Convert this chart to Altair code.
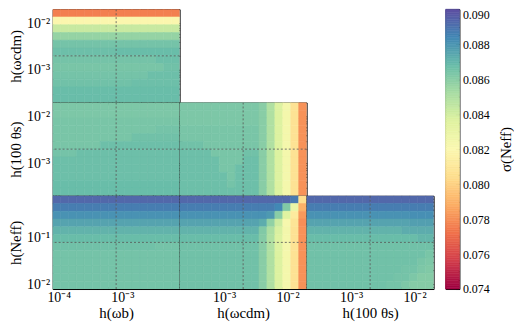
import altair as alt
import numpy as np
import pandas as pd

FONT = "Liberation Serif"

# ---------------- parameters (fiducial value; plotted range = fiducial/10 .. fiducial*10)
param_names = ["wb", "wcdm", "th", "neff"]
param_fiducial = [8e-4, 2e-3, 2e-3, 8e-2]
param_titles = ["h(ωb)", "h(ωcdm)", "h(100 θs)", "h(Neff)"]

tick_label_text = {-4: "10⁻⁴", -3: "10⁻³", -2: "10⁻²", -1: "10⁻¹"}

sigma_range = [0.074, 0.090]
colorbar_ticks = [0.074, 0.076, 0.078, 0.080, 0.082, 0.084, 0.086, 0.088, 0.090]
colorbar_title = "σ(Neff)"

# ---------------- sigma(N_eff): rows top -> bottom, columns left -> right
sigma_wcdm_wb = [
    [0.0776, 0.0776, 0.0776, 0.0776, 0.0776, 0.0776, 0.0776, 0.0776, 0.0776, 0.0776, 0.0776, 0.0776, 0.0776, 0.0776, 0.0776, 0.0776],
    [0.0819, 0.0819, 0.0819, 0.0819, 0.0819, 0.0819, 0.0819, 0.0819, 0.0819, 0.0819, 0.0819, 0.0819, 0.0819, 0.0819, 0.0819, 0.0819],
    [0.0843, 0.0843, 0.0843, 0.0843, 0.0843, 0.0843, 0.0843, 0.0843, 0.0843, 0.0843, 0.0843, 0.0843, 0.0843, 0.0843, 0.0843, 0.0843],
    [0.0857, 0.0857, 0.0857, 0.0857, 0.0857, 0.0857, 0.0857, 0.0857, 0.0857, 0.0857, 0.0857, 0.0857, 0.0857, 0.0857, 0.0857, 0.0857],
    [0.0865, 0.0865, 0.0865, 0.0865, 0.0865, 0.0865, 0.0865, 0.0865, 0.0865, 0.0865, 0.0865, 0.0865, 0.0865, 0.0865, 0.0865, 0.0865],
    [0.0867, 0.0867, 0.0867, 0.0867, 0.0867, 0.0867, 0.0867, 0.0867, 0.0868, 0.0868, 0.0868, 0.0868, 0.0868, 0.0868, 0.0868, 0.0868],
    [0.0865, 0.0865, 0.0865, 0.0865, 0.0865, 0.0865, 0.0865, 0.0865, 0.0865, 0.0865, 0.0865, 0.0865, 0.0865, 0.0867, 0.0867, 0.0867],
    [0.0864, 0.0864, 0.0864, 0.0864, 0.0864, 0.0864, 0.0864, 0.0864, 0.0864, 0.0864, 0.0864, 0.0864, 0.0864, 0.0864, 0.0866, 0.0866],
    [0.0865, 0.0865, 0.0865, 0.0865, 0.0865, 0.0865, 0.0865, 0.0865, 0.0865, 0.0865, 0.0865, 0.0865, 0.0867, 0.0867, 0.0867, 0.0867],
    [0.0866, 0.0866, 0.0866, 0.0866, 0.0866, 0.0866, 0.0866, 0.0866, 0.0866, 0.0866, 0.0867, 0.0867, 0.0867, 0.0867, 0.0867, 0.0867],
    [0.0868, 0.0868, 0.0868, 0.0868, 0.0868, 0.0868, 0.0868, 0.0868, 0.0868, 0.0868, 0.0868, 0.0868, 0.0868, 0.0868, 0.0868, 0.0868],
    [0.0868, 0.0868, 0.0868, 0.0868, 0.0868, 0.0868, 0.0868, 0.0868, 0.0868, 0.0868, 0.0868, 0.0868, 0.0868, 0.0868, 0.0868, 0.0868],
]

sigma_th_wb = [
    [0.0863, 0.0863, 0.0863, 0.0863, 0.0863, 0.0863, 0.0863, 0.0863, 0.0863, 0.0863, 0.0863, 0.0863, 0.0863, 0.0863, 0.0863, 0.0863],
    [0.0863, 0.0863, 0.0863, 0.0863, 0.0863, 0.0863, 0.0863, 0.0863, 0.0863, 0.0863, 0.0863, 0.0863, 0.0863, 0.0863, 0.0863, 0.0863],
    [0.0864, 0.0864, 0.0864, 0.0864, 0.0864, 0.0864, 0.0864, 0.0864, 0.0864, 0.0864, 0.0864, 0.0864, 0.0864, 0.0864, 0.0864, 0.0864],
    [0.0864, 0.0864, 0.0864, 0.0864, 0.0864, 0.0864, 0.0864, 0.0864, 0.0864, 0.0864, 0.0864, 0.0864, 0.0864, 0.0865, 0.0865, 0.0865],
    [0.0864, 0.0864, 0.0864, 0.0864, 0.0864, 0.0864, 0.0864, 0.0864, 0.0864, 0.0864, 0.0866, 0.0866, 0.0866, 0.0866, 0.0866, 0.0866],
    [0.0864, 0.0864, 0.0864, 0.0864, 0.0864, 0.0864, 0.0867, 0.0867, 0.0867, 0.0867, 0.0867, 0.0867, 0.0867, 0.0867, 0.0867, 0.0867],
    [0.0865, 0.0865, 0.0865, 0.0867, 0.0867, 0.0867, 0.0867, 0.0867, 0.0867, 0.0867, 0.0867, 0.0867, 0.0867, 0.0867, 0.0867, 0.0867],
    [0.0867, 0.0867, 0.0867, 0.0867, 0.0867, 0.0867, 0.0867, 0.0867, 0.0867, 0.0867, 0.0867, 0.0867, 0.0867, 0.0867, 0.0867, 0.0867],
    [0.0867, 0.0867, 0.0867, 0.0867, 0.0867, 0.0867, 0.0867, 0.0867, 0.0867, 0.0867, 0.0867, 0.0867, 0.0867, 0.0867, 0.0867, 0.0867],
    [0.0867, 0.0867, 0.0867, 0.0867, 0.0867, 0.0867, 0.0867, 0.0867, 0.0867, 0.0867, 0.0867, 0.0867, 0.0867, 0.0867, 0.0867, 0.0867],
    [0.0868, 0.0868, 0.0868, 0.0868, 0.0868, 0.0868, 0.0868, 0.0868, 0.0868, 0.0868, 0.0868, 0.0868, 0.0868, 0.0868, 0.0868, 0.0868],
    [0.0868, 0.0868, 0.0868, 0.0868, 0.0868, 0.0868, 0.0868, 0.0868, 0.0868, 0.0868, 0.0868, 0.0868, 0.0868, 0.0868, 0.0868, 0.0868],
]

sigma_th_wcdm = [
    [0.0863, 0.0863, 0.0863, 0.0863, 0.0863, 0.0863, 0.0863, 0.0863, 0.0863, 0.0863, 0.0860, 0.0850, 0.0837, 0.0824, 0.0807, 0.0781],
    [0.0863, 0.0863, 0.0863, 0.0863, 0.0863, 0.0863, 0.0863, 0.0863, 0.0863, 0.0863, 0.0860, 0.0850, 0.0837, 0.0824, 0.0807, 0.0781],
    [0.0863, 0.0863, 0.0863, 0.0863, 0.0863, 0.0863, 0.0863, 0.0863, 0.0863, 0.0863, 0.0860, 0.0850, 0.0837, 0.0824, 0.0807, 0.0781],
    [0.0864, 0.0864, 0.0864, 0.0864, 0.0864, 0.0864, 0.0864, 0.0864, 0.0864, 0.0864, 0.0860, 0.0850, 0.0837, 0.0824, 0.0807, 0.0781],
    [0.0864, 0.0864, 0.0864, 0.0864, 0.0864, 0.0864, 0.0864, 0.0864, 0.0864, 0.0864, 0.0860, 0.0850, 0.0837, 0.0824, 0.0807, 0.0781],
    [0.0866, 0.0866, 0.0866, 0.0864, 0.0864, 0.0864, 0.0864, 0.0864, 0.0864, 0.0864, 0.0860, 0.0850, 0.0837, 0.0824, 0.0807, 0.0781],
    [0.0867, 0.0867, 0.0867, 0.0867, 0.0864, 0.0864, 0.0864, 0.0864, 0.0866, 0.0866, 0.0860, 0.0850, 0.0837, 0.0824, 0.0807, 0.0781],
    [0.0867, 0.0867, 0.0867, 0.0867, 0.0867, 0.0864, 0.0864, 0.0864, 0.0867, 0.0867, 0.0860, 0.0850, 0.0837, 0.0824, 0.0807, 0.0781],
    [0.0867, 0.0867, 0.0867, 0.0867, 0.0867, 0.0864, 0.0864, 0.0867, 0.0867, 0.0867, 0.0860, 0.0850, 0.0837, 0.0824, 0.0807, 0.0781],
    [0.0867, 0.0867, 0.0867, 0.0867, 0.0867, 0.0867, 0.0864, 0.0867, 0.0867, 0.0867, 0.0860, 0.0850, 0.0837, 0.0824, 0.0807, 0.0781],
    [0.0867, 0.0867, 0.0867, 0.0867, 0.0867, 0.0867, 0.0865, 0.0867, 0.0867, 0.0867, 0.0860, 0.0850, 0.0837, 0.0824, 0.0807, 0.0781],
    [0.0867, 0.0867, 0.0867, 0.0867, 0.0867, 0.0867, 0.0867, 0.0867, 0.0867, 0.0867, 0.0860, 0.0850, 0.0837, 0.0824, 0.0807, 0.0781],
]

sigma_neff_wb = [
    [0.0893, 0.0893, 0.0893, 0.0893, 0.0893, 0.0893, 0.0893, 0.0893, 0.0893, 0.0893, 0.0893, 0.0893, 0.0893, 0.0893, 0.0893, 0.0893],
    [0.0887, 0.0887, 0.0887, 0.0887, 0.0887, 0.0887, 0.0887, 0.0887, 0.0887, 0.0887, 0.0887, 0.0887, 0.0887, 0.0887, 0.0887, 0.0887],
    [0.0881, 0.0881, 0.0881, 0.0881, 0.0881, 0.0881, 0.0881, 0.0881, 0.0881, 0.0881, 0.0881, 0.0881, 0.0881, 0.0881, 0.0881, 0.0881],
    [0.0876, 0.0876, 0.0876, 0.0876, 0.0876, 0.0876, 0.0876, 0.0876, 0.0876, 0.0876, 0.0876, 0.0876, 0.0876, 0.0876, 0.0876, 0.0876],
    [0.0871, 0.0871, 0.0871, 0.0871, 0.0871, 0.0871, 0.0871, 0.0871, 0.0871, 0.0871, 0.0871, 0.0871, 0.0871, 0.0871, 0.0871, 0.0871],
    [0.0868, 0.0868, 0.0868, 0.0868, 0.0868, 0.0868, 0.0868, 0.0868, 0.0868, 0.0868, 0.0868, 0.0868, 0.0868, 0.0868, 0.0868, 0.0868],
    [0.0866, 0.0866, 0.0866, 0.0866, 0.0866, 0.0866, 0.0866, 0.0866, 0.0866, 0.0866, 0.0866, 0.0866, 0.0866, 0.0865, 0.0865, 0.0865],
    [0.0865, 0.0865, 0.0865, 0.0865, 0.0865, 0.0865, 0.0865, 0.0865, 0.0865, 0.0865, 0.0865, 0.0865, 0.0865, 0.0865, 0.0865, 0.0865],
    [0.0865, 0.0865, 0.0865, 0.0865, 0.0865, 0.0865, 0.0865, 0.0865, 0.0865, 0.0865, 0.0865, 0.0865, 0.0865, 0.0865, 0.0865, 0.0865],
    [0.0865, 0.0865, 0.0865, 0.0865, 0.0865, 0.0865, 0.0865, 0.0865, 0.0865, 0.0865, 0.0865, 0.0865, 0.0865, 0.0865, 0.0865, 0.0865],
    [0.0865, 0.0865, 0.0865, 0.0865, 0.0865, 0.0865, 0.0865, 0.0865, 0.0865, 0.0865, 0.0865, 0.0865, 0.0865, 0.0865, 0.0865, 0.0865],
    [0.0865, 0.0865, 0.0865, 0.0865, 0.0865, 0.0865, 0.0865, 0.0865, 0.0865, 0.0865, 0.0865, 0.0865, 0.0865, 0.0865, 0.0865, 0.0865],
]

sigma_neff_wcdm = [
    [0.0893, 0.0893, 0.0893, 0.0893, 0.0893, 0.0893, 0.0893, 0.0893, 0.0893, 0.0893, 0.0893, 0.0893, 0.0893, 0.0893, 0.0888, 0.0805],
    [0.0887, 0.0887, 0.0887, 0.0887, 0.0887, 0.0887, 0.0887, 0.0887, 0.0887, 0.0887, 0.0887, 0.0887, 0.0884, 0.0862, 0.0830, 0.0790],
    [0.0881, 0.0881, 0.0881, 0.0881, 0.0881, 0.0881, 0.0881, 0.0881, 0.0881, 0.0881, 0.0881, 0.0879, 0.0860, 0.0836, 0.0812, 0.0783],
    [0.0876, 0.0876, 0.0876, 0.0876, 0.0876, 0.0876, 0.0876, 0.0876, 0.0876, 0.0876, 0.0873, 0.0858, 0.0842, 0.0823, 0.0808, 0.0780],
    [0.0871, 0.0871, 0.0871, 0.0871, 0.0871, 0.0871, 0.0871, 0.0871, 0.0871, 0.0871, 0.0862, 0.0851, 0.0838, 0.0825, 0.0807, 0.0781],
    [0.0868, 0.0868, 0.0868, 0.0868, 0.0868, 0.0868, 0.0868, 0.0868, 0.0868, 0.0868, 0.0861, 0.0850, 0.0837, 0.0824, 0.0807, 0.0781],
    [0.0866, 0.0866, 0.0866, 0.0866, 0.0866, 0.0866, 0.0866, 0.0866, 0.0866, 0.0866, 0.0860, 0.0850, 0.0837, 0.0824, 0.0807, 0.0781],
    [0.0866, 0.0866, 0.0866, 0.0866, 0.0866, 0.0866, 0.0866, 0.0866, 0.0866, 0.0866, 0.0860, 0.0850, 0.0837, 0.0824, 0.0807, 0.0781],
    [0.0866, 0.0866, 0.0866, 0.0866, 0.0866, 0.0866, 0.0866, 0.0866, 0.0866, 0.0866, 0.0860, 0.0850, 0.0837, 0.0824, 0.0807, 0.0781],
    [0.0866, 0.0866, 0.0866, 0.0866, 0.0866, 0.0866, 0.0866, 0.0866, 0.0866, 0.0866, 0.0860, 0.0850, 0.0837, 0.0824, 0.0807, 0.0781],
    [0.0866, 0.0866, 0.0866, 0.0866, 0.0866, 0.0866, 0.0866, 0.0866, 0.0866, 0.0866, 0.0860, 0.0850, 0.0837, 0.0824, 0.0807, 0.0781],
    [0.0866, 0.0866, 0.0866, 0.0866, 0.0866, 0.0866, 0.0866, 0.0866, 0.0866, 0.0866, 0.0860, 0.0850, 0.0837, 0.0824, 0.0807, 0.0781],
]

sigma_neff_th = [
    [0.0893, 0.0893, 0.0893, 0.0893, 0.0893, 0.0893, 0.0893, 0.0893, 0.0893, 0.0893, 0.0893, 0.0893, 0.0893, 0.0893, 0.0893, 0.0893],
    [0.0887, 0.0887, 0.0887, 0.0887, 0.0887, 0.0887, 0.0887, 0.0887, 0.0887, 0.0887, 0.0887, 0.0887, 0.0887, 0.0887, 0.0887, 0.0887],
    [0.0881, 0.0881, 0.0881, 0.0881, 0.0881, 0.0881, 0.0881, 0.0881, 0.0881, 0.0881, 0.0881, 0.0881, 0.0881, 0.0882, 0.0882, 0.0882],
    [0.0876, 0.0876, 0.0876, 0.0876, 0.0876, 0.0876, 0.0876, 0.0876, 0.0876, 0.0876, 0.0876, 0.0876, 0.0876, 0.0877, 0.0877, 0.0877],
    [0.0871, 0.0871, 0.0871, 0.0871, 0.0871, 0.0871, 0.0871, 0.0871, 0.0871, 0.0871, 0.0871, 0.0871, 0.0873, 0.0873, 0.0873, 0.0873],
    [0.0868, 0.0868, 0.0868, 0.0868, 0.0868, 0.0868, 0.0868, 0.0868, 0.0868, 0.0868, 0.0868, 0.0868, 0.0868, 0.0868, 0.0870, 0.0870],
    [0.0866, 0.0866, 0.0866, 0.0866, 0.0866, 0.0866, 0.0866, 0.0866, 0.0866, 0.0866, 0.0866, 0.0866, 0.0866, 0.0866, 0.0866, 0.0866],
    [0.0866, 0.0866, 0.0866, 0.0866, 0.0866, 0.0866, 0.0866, 0.0866, 0.0866, 0.0866, 0.0866, 0.0866, 0.0866, 0.0866, 0.0866, 0.0864],
    [0.0866, 0.0866, 0.0866, 0.0866, 0.0866, 0.0866, 0.0866, 0.0866, 0.0866, 0.0866, 0.0866, 0.0866, 0.0866, 0.0866, 0.0864, 0.0863],
    [0.0866, 0.0866, 0.0866, 0.0866, 0.0866, 0.0866, 0.0866, 0.0866, 0.0866, 0.0866, 0.0866, 0.0866, 0.0865, 0.0865, 0.0863, 0.0862],
    [0.0866, 0.0866, 0.0866, 0.0866, 0.0866, 0.0866, 0.0866, 0.0866, 0.0866, 0.0866, 0.0866, 0.0865, 0.0865, 0.0863, 0.0861, 0.0861],
    [0.0866, 0.0866, 0.0866, 0.0866, 0.0866, 0.0866, 0.0866, 0.0866, 0.0866, 0.0866, 0.0865, 0.0865, 0.0863, 0.0861, 0.0861, 0.0861],
]

# ---------------- helpers
FID = dict(zip(param_names, param_fiducial))
TITLE = dict(zip(param_names, param_titles))
MAJ, MIN = 4.5, 2.5
PW, PH = 128, 94

cscale = alt.Scale(scheme="spectral", domain=sigma_range, clamp=True)

label_expr = " : ".join(
    f"datum.value < {3 * 10.0 ** e:g} ? '{s}'" for e, s in sorted(tick_label_text.items())
) + " : ''"


def dom(k):
    return [FID[k] / 10, FID[k] * 10]


def log_ticks(k):
    lo, hi = dom(k)
    major, minor = [], []
    for e in range(-6, 1):
        for m in range(1, 10):
            t = float(f"{m}e{e}")
            if lo * 1.0001 < t < hi * 0.9999:
                (major if m == 1 else minor).append(t)
    return major, minor


def axis(orient, values, size, labels=False, title=None, **extra):
    kw = dict(orient=orient, values=values, tickSize=size, offset=-size,
              domain=False, grid=False, ticks=True, tickColor="black",
              tickWidth=0.8, labels=labels, labelFlush=False, title=title)
    kw.update(extra)
    return alt.Axis(**kw)


def make_panel(grid, xk, yk, show_x, show_y):
    ny, nx = len(grid), len(grid[0])
    (xlo, xhi), (ylo, yhi) = dom(xk), dom(yk)
    recs = []
    for i, row in enumerate(grid):
        for j, v in enumerate(row):
            recs.append({
                "x": xlo * (xhi / xlo) ** (j / nx), "x2": xlo * (xhi / xlo) ** ((j + 1) / nx),
                "y": yhi * (ylo / yhi) ** ((i + 1) / ny), "y2": yhi * (ylo / yhi) ** (i / ny),
                "v": v,
            })
    df = pd.DataFrame(recs)
    xs = alt.Scale(type="log", domain=[xlo, xhi], nice=False)
    ys = alt.Scale(type="log", domain=[ylo, yhi], nice=False)
    xmaj, xmin = log_ticks(xk)
    ymaj, ymin = log_ticks(yk)
    xlab = dict(labelExpr=label_expr, labelFontSize=14, labelPadding=2, titlePadding=1,
                titleFontSize=15) if show_x else {}
    ylab = dict(labelExpr=label_expr, labelFontSize=14, labelPadding=3, titlePadding=3,
                titleFontSize=15) if show_y else {}

    base = alt.Chart(df)
    heat = base.mark_rect(clip=True, strokeWidth=0.6).encode(
        x=alt.X("x:Q", scale=xs, axis=axis("bottom", xmaj, MAJ, show_x,
                                              TITLE[xk] if show_x else None, **xlab)),
        x2="x2:Q",
        y=alt.Y("y:Q", scale=ys, axis=axis("left", ymaj, MAJ, show_y,
                                              TITLE[yk] if show_y else None, **ylab)),
        y2="y2:Q",
        color=alt.Color("v:Q", scale=cscale, legend=None),
        stroke=alt.Stroke("v:Q", scale=cscale, legend=None),
    )

    def ghost_layer(xo, xv, xsz, yo, yv, ysz):
        return base.mark_rect(opacity=0, clip=True).encode(
            x=alt.X("x:Q", scale=xs, axis=axis(xo, xv, xsz)), x2="x2:Q",
            y=alt.Y("y:Q", scale=ys, axis=axis(yo, yv, ysz)), y2="y2:Q",
        )

    fid = pd.DataFrame({"fx": [FID[xk]], "fy": [FID[yk]]})
    dash = dict(color="#555555", strokeDash=[2, 2], strokeWidth=0.8, clip=True)
    vline = alt.Chart(fid).mark_rule(**dash).encode(x=alt.X("fx:Q", scale=xs, axis=None))
    hline = alt.Chart(fid).mark_rule(**dash).encode(y=alt.Y("fy:Q", scale=ys, axis=None))

    layers = [
        heat, vline, hline,
        ghost_layer("bottom", xmin, MIN, "left", ymin, MIN),
        ghost_layer("top", xmaj, MAJ, "right", ymaj, MAJ),
        ghost_layer("top", xmin, MIN, "right", ymin, MIN),
    ]
    return (alt.layer(*layers)
            .resolve_axis(x="independent", y="independent")
            .properties(width=PW, height=PH))


def blank():
    return (alt.Chart(pd.DataFrame({"e": [0.0]}))
            .mark_point(opacity=0, size=0, clip=True)
            .encode(x=alt.X("e:Q", axis=None, scale=alt.Scale(domain=[-1, 1])),
                    y=alt.Y("e:Q", axis=None, scale=alt.Scale(domain=[-1, 1])))
            .properties(width=PW, height=PH, view=alt.ViewBackground(strokeOpacity=0)))


pA = make_panel(sigma_wcdm_wb, "wb", "wcdm", False, True)
pB = make_panel(sigma_th_wb, "wb", "th", False, True)
pC = make_panel(sigma_th_wcdm, "wcdm", "th", False, False)
pD = make_panel(sigma_neff_wb, "wb", "neff", True, True)
pE = make_panel(sigma_neff_wcdm, "wcdm", "neff", True, False)
pF = make_panel(sigma_neff_th, "th", "neff", True, False)

tri = alt.concat(
    pA, blank(), blank(),
    pB, pC, blank(),
    pD, pE, pF,
    columns=3, spacing=0, bounds="flush",
)

# ---------------- colour bar
colorbar_levels = np.round(np.linspace(sigma_range[0], sigma_range[1], 161), 6)
cb_df = pd.DataFrame({"lo": colorbar_levels[:-1], "hi": colorbar_levels[1:]})
cb_df["mid"] = (cb_df["lo"] + cb_df["hi"]) / 2
cb_df["a"] = 0.0
cb_df["b"] = 1.0
cys = alt.Scale(domain=sigma_range, nice=False, zero=False)
cxs = alt.Scale(domain=[0, 1], nice=False, zero=False)
cb_minor = [round(0.0745 + 0.0005 * k, 4) for k in range(31) if k % 4 != 3]

cb_main = alt.Chart(cb_df).mark_rect(strokeWidth=0.6).encode(
    x=alt.X("a:Q", scale=cxs, axis=None), x2="b:Q",
    y=alt.Y("lo:Q", scale=cys, axis=alt.Axis(
        orient="right", values=colorbar_ticks, format=".3f", tickSize=4, offset=-4,
        domain=False, grid=False, tickColor="black", tickWidth=0.8,
        labelFontSize=12, labelPadding=3, labelFlush=False,
        labelBaseline={"condition": {"test": "datum.value > 0.0895", "value": "top"},
                       "value": "middle"},
        title=colorbar_title, titleAngle=270, titleBaseline="top", titlePadding=9,
        titleFontSize=15)),
    y2="hi:Q",
    color=alt.Color("mid:Q", scale=cscale, legend=None),
    stroke=alt.Stroke("mid:Q", scale=cscale, legend=None),
)
cb_ticks = alt.Chart(cb_df).mark_rect(opacity=0).encode(
    x=alt.X("a:Q", scale=cxs, axis=None), x2="b:Q",
    y=alt.Y("lo:Q", scale=cys, axis=alt.Axis(
        orient="right", values=cb_minor, tickSize=2, offset=-2, labels=False,
        domain=False, grid=False, tickColor="black", tickWidth=0.8, title=None)),
    y2="hi:Q",
)
cbar = (alt.layer(cb_main, cb_ticks)
        .resolve_axis(y="independent")
        .properties(width=14, height=3 * PH))

chart = (
    alt.hconcat(tri, cbar, spacing=10)
    .properties(padding={"left": 0, "top": -2, "right": 0, "bottom": 0})
    .configure_view(stroke="black", strokeWidth=1)
    .configure_axis(labelFont=FONT, titleFont=FONT, labelColor="black",
                    titleColor="black", titleFontWeight="normal")
)

chart.save("out.html", embed_options={"renderer": "svg", "actions": False})
